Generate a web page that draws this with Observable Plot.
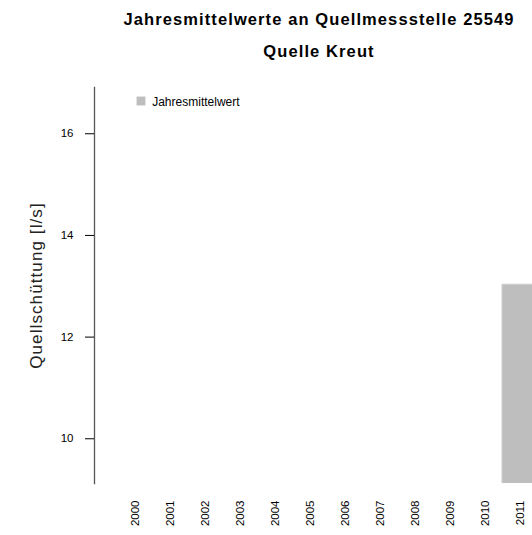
<!DOCTYPE html>
<html><head><meta charset="utf-8">
<script src="https://cdn.jsdelivr.net/npm/d3@7"></script>
<script src="https://cdn.jsdelivr.net/npm/@observablehq/plot@0.6"></script>
<style>
html,body{margin:0;padding:0;background:#fff;overflow:hidden;width:532px;height:535px}
#title{margin-left:94px;width:450px;height:70px;box-sizing:border-box;padding-top:3px;text-align:center;font-family:"Liberation Sans",Arial,sans-serif;font-weight:bold;font-size:16.5px;letter-spacing:1.1px;line-height:32px;color:#000;white-space:nowrap}
</style></head><body>
<div id="title"><div>Jahresmittelwerte an Quellmessstelle 25549</div><div>Quelle Kreut</div></div>
<div id="chart"></div>
<script>
const years = ["2000","2001","2002","2003","2004","2005","2006","2007","2008","2009","2010","2011"];
const barYears = ["2011"];
const barValues = [13.03];
const yTicks = [10, 12, 14, 16];
const yDomain = [9.12, 16.91];
const legendLabel = "Jahresmittelwert";
const yLabel = "Quellschüttung [l/s]";

const data = barYears.map((year, i) => ({year, value: barValues[i]}));

const plot = Plot.plot({
  width: 532, height: 465,
  marginLeft: 94, marginRight: 0, marginTop: 17, marginBottom: 52,
  style: {fontFamily: '"Liberation Sans", Arial, sans-serif', fontSize: "11.5px", color: "#000", background: "#fff"},
  x: {type: "band", domain: years, padding: 0, insetLeft: 19.7, insetRight: -8.4},
  y: {domain: yDomain},
  marks: [
    Plot.barY(data, {x: "year", y: "value", fill: "#bebebe", stroke: "#cfcfcf", strokeWidth: 1, clip: true}),
    Plot.frame({anchor: "left", stroke: "#555", strokeWidth: 1.3}),
    Plot.axisY({ticks: yTicks, tickSize: 9, tickPadding: 12, label: null, stroke: "#000", fill: "#000"}),
    Plot.axisX({tickSize: 0, tickPadding: 17, tickRotate: -90, label: null, fill: "#000"}),
    Plot.text([yLabel], {text: d => d, frameAnchor: "left", rotate: -90, dx: -58, fontSize: 17, fill: "#222", textAnchor: "middle", lineAnchor: "middle"}),
    Plot.dot([legendLabel], {frameAnchor: "top-left", dx: 46.5, dy: 13.5, symbol: "square", r: 5, fill: "#bebebe", stroke: "none"}),
    Plot.text([legendLabel], {text: d => d, frameAnchor: "top-left", dx: 57.7, dy: 15, textAnchor: "start", lineAnchor: "middle", fontSize: 12, fill: "#000"})
  ]
});
d3.select(plot).selectAll("text").filter(function() { return this.textContent === yLabel; }).style("letter-spacing", "1.1px");
document.getElementById("chart").appendChild(plot);
</script>
</body></html>
